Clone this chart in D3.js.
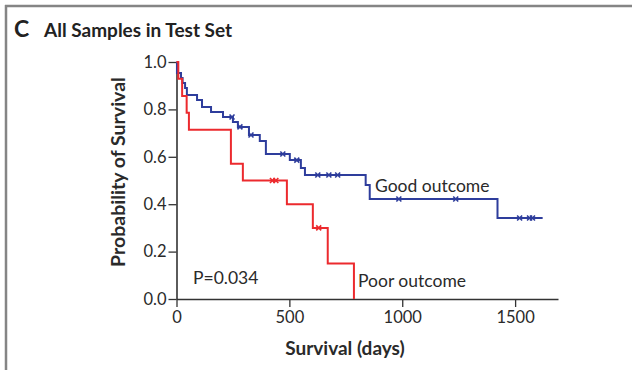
<!DOCTYPE html>
<html>
<head>
<meta charset="utf-8">
<script src="https://cdn.jsdelivr.net/npm/d3@7"></script>
<style>
  body { margin: 0; background: #fff; }
  svg { display: block; font-family: Lato, "Open Sans", sans-serif; }
</style>
</head>
<body>
<div id="chart"></div>
<script>
// Kaplan-Meier curves (days, survival after the step)
const goodTimes = [0, 2, 20, 27, 38, 46, 91, 113, 153, 206, 250, 272, 321, 369, 396, 502, 551, 569, 838, 856, 1422];
const goodSurv  = [1.0, 0.954, 0.932, 0.911, 0.890, 0.861, 0.840, 0.810, 0.789, 0.768, 0.747, 0.726, 0.692, 0.667, 0.612, 0.586, 0.553, 0.523, 0.481, 0.422, 0.342];
const goodCensor = [246, 281, 330, 471, 533, 626, 675, 714, 985, 1237, 1520, 1564, 1577];
const goodEnd = 1622;

const poorTimes = [0, 8, 25, 45, 55, 241, 294, 489, 604, 670, 786];
const poorSurv  = [1.0, 0.929, 0.857, 0.786, 0.714, 0.571, 0.50, 0.40, 0.30, 0.15, 0.0];
const poorCensor = [425, 440, 630];
const poorEnd = 786;

const xTicks = [0, 500, 1000, 1500];
const yTicks = [0, 0.2, 0.4, 0.6, 0.8, 1.0];

const W = 632, H = 370;
const svg = d3.select('#chart').append('svg')
    .attr('width', W)
    .attr('height', H);

// panel frame
svg.append('line').attr('x1', 5).attr('x2', W).attr('y1', 6).attr('y2', 6)
    .attr('stroke', '#858585').attr('stroke-width', 2.5);
svg.append('line').attr('x1', 6).attr('x2', 6).attr('y1', 5).attr('y2', H)
    .attr('stroke', '#858585').attr('stroke-width', 2.5);

svg.append('text').attr('x', 14).attr('y', 37)
    .attr('font-size', 23).attr('font-weight', 700).attr('fill', '#222').text('C');
svg.append('text').attr('x', 44).attr('y', 37)
    .attr('font-size', 19).attr('font-weight', 700).attr('fill', '#222').text('All Samples in Test Set');

const x = d3.scaleLinear().domain([0, 1690]).range([176.5, 558]);
const y = d3.scaleLinear().domain([0, 1]).range([299, 62]);

const g = svg.append('g');

// axes
const xAxis = g.append('g')
    .attr('transform', `translate(0,${y(0)})`)
    .call(d3.axisBottom(x).tickValues(xTicks).tickSize(8).tickPadding(4).tickSizeOuter(0)
        .tickFormat(d3.format('d')));
const yAxis = g.append('g')
    .attr('transform', `translate(${x(0)},0)`)
    .call(d3.axisLeft(y).tickValues(yTicks).tickSize(8).tickPadding(2).tickSizeOuter(0)
        .tickFormat(d3.format('.1f')));

[xAxis, yAxis].forEach(ax => {
    ax.select('.domain').attr('stroke', '#333').attr('stroke-width', 1.6);
    ax.selectAll('.tick line').attr('stroke', '#333').attr('stroke-width', 1.3);
    ax.selectAll('.tick text').attr('font-size', 16.5).attr('fill', '#2a2a2a')
        .attr('font-family', 'Lato, "Open Sans", sans-serif');
});

g.append('text')
    .attr('x', 345).attr('y', 355)
    .attr('text-anchor', 'middle')
    .attr('font-size', 19).attr('font-weight', 700).attr('fill', '#2a2a2a')
    .text('Survival (days)');
g.append('text')
    .attr('transform', 'translate(125,172) rotate(-90)')
    .attr('text-anchor', 'middle')
    .attr('font-size', 19.5).attr('font-weight', 700).attr('fill', '#2a2a2a')
    .text('Probability of Survival');

function stepPoints(times, surv, end) {
    const pts = times.map((t, i) => [t, surv[i]]);
    pts.push([end, surv[surv.length - 1]]);
    return pts;
}
function survAt(times, surv, t) {
    let s = surv[0];
    times.forEach((tt, i) => { if (tt <= t) s = surv[i]; });
    return s;
}

const line = d3.line()
    .x(d => x(d[0]))
    .y(d => y(d[1]))
    .curve(d3.curveStepAfter);

const series = [
    { times: goodTimes, surv: goodSurv, censor: goodCensor, end: goodEnd, color: '#2e3d9c' },
    { times: poorTimes, surv: poorSurv, censor: poorCensor, end: poorEnd, color: '#ec2a2e' }
];

series.forEach(s => {
    g.append('path')
        .datum(stepPoints(s.times, s.surv, s.end))
        .attr('fill', 'none')
        .attr('stroke', s.color)
        .attr('stroke-width', 2)
        .attr('d', line);

    g.selectAll(null)
        .data(s.censor)
        .enter()
        .append('path')
        .attr('transform', d => `translate(${x(d)},${y(survAt(s.times, s.surv, d))})`)
        .attr('d', 'M-2.5,-2.5L2.5,2.5M-2.5,2.5L2.5,-2.5')
        .attr('stroke', s.color)
        .attr('stroke-width', 1.6);
});

g.append('text').attr('x', 375).attr('y', 192)
    .attr('font-size', 17.5).attr('fill', '#2a2a2a').text('Good outcome');
g.append('text').attr('x', 358).attr('y', 287)
    .attr('font-size', 17.5).attr('fill', '#2a2a2a').text('Poor outcome');
g.append('text').attr('x', 193).attr('y', 284)
    .attr('font-size', 17.5).attr('fill', '#2a2a2a').text('P=0.034');
</script>
</body>
</html>
